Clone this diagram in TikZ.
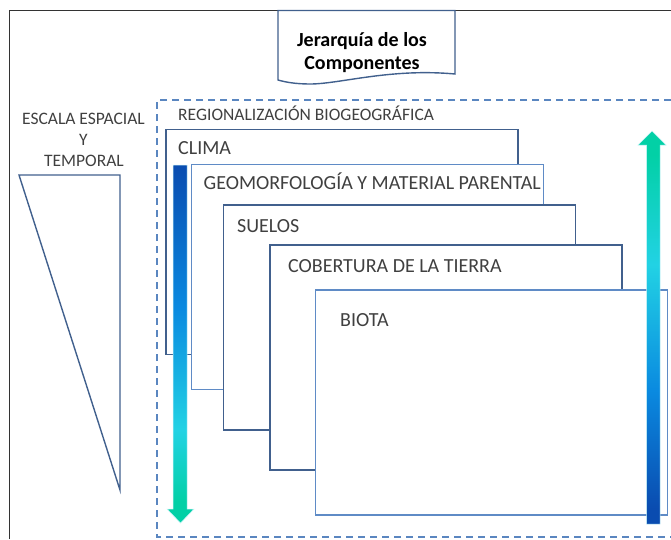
\documentclass[tikz,border=0pt]{standalone}
\usepackage{fontspec}
\setmainfont{Carlito}
\usetikzlibrary{shapes.geometric}
\definecolor{frameblk}{HTML}{333333}
\definecolor{darkedge}{HTML}{41608D}
\definecolor{lightedge}{HTML}{5F8BC6}
\definecolor{dashblue}{HTML}{5A86C0}
\definecolor{txtgray}{HTML}{404040}
\definecolor{dblue}{HTML}{0A4CB0}
\definecolor{mblue}{HTML}{0A8AE0}
\definecolor{cyanc}{HTML}{22D2E4}
\definecolor{tealc}{HTML}{02D0A6}
% path box maps to 25bp..75bp of the shading
\pgfdeclareverticalshading{downgrad}{100bp}{color(0bp)=(tealc); color(28bp)=(tealc); color(38bp)=(cyanc); color(55bp)=(mblue); color(75bp)=(dblue); color(100bp)=(dblue)}
\pgfdeclareverticalshading{upgrad}{100bp}{color(0bp)=(dblue); color(27bp)=(dblue); color(42bp)=(mblue); color(58bp)=(cyanc); color(72bp)=(tealc); color(100bp)=(tealc)}
\tikzset{
  layer/.style={draw=#1, line width=1.6pt, fill=white, anchor=north west, minimum width=352pt, minimum height=225pt, inner sep=0pt},
  lbl/.style={anchor=base west, inner sep=0pt, text=txtgray, font=\fontsize{20}{22}\selectfont},
  smalllbl/.style={inner sep=0pt, text=txtgray, font=\fontsize{17.5}{19}\selectfont},
  arrowglow/.style={draw=white!75!cyanc, line width=0.5pt},
}
\begin{document}
\begin{tikzpicture}[x=1pt,y=-1pt]
\useasboundingbox (0,0) rectangle (671,539);
% outer frame
\draw[frameblk, line width=1.5pt] (9.5,539) -- (9.5,10.5) -- (671,10.5);
% title document shape
\draw[darkedge, line width=1.4pt, fill=white] (278,10.5) -- (455,10.5) -- (455,74)
  .. controls (390,68) and (340,84) .. (310,84) .. controls (295,84) and (285,82) .. (278,80) -- cycle;
\node[inner sep=0pt, align=center, font=\fontsize{20}{23}\selectfont\bfseries, text=black] (title) at (362,53) {Jerarquía de los\\Componentes};
% left scale
\node[smalllbl, anchor=base] (esc1) at (83.5,124) {ESCALA ESPACIAL};
\node[smalllbl, anchor=base] (esc2) at (83.5,145) {Y};
\node[smalllbl, anchor=base] (esc3) at (84,166) {TEMPORAL};
\draw[darkedge, line width=1.4pt] (19,175) -- (120,175) -- (120,490) -- cycle;
% dashed region
\draw[dashblue, line width=2pt, dash pattern=on 7pt off 5pt] (671,100) -- (157,100) -- (157,537) -- (671,537);
\node[anchor=base west, inner sep=0pt, text=txtgray, font=\fontsize{17.5}{19}\selectfont] (region) at (178,120.5) {REGIONALIZACIÓN BIOGEOGRÁFICA};
% layers
\node[layer=darkedge] (clima) at (165,128.5) {};
\node[lbl] (climat) at (178,154) {CLIMA};
\node[layer=lightedge] (geo) at (190.5,163.5) {};
\node[lbl] (geot) at (203.5,189) {GEOMORFOLOGÍA Y MATERIAL PARENTAL};
\node[layer=darkedge] (suelos) at (222.5,204) {};
\node[lbl] (suelost) at (237,232) {SUELOS};
\node[layer=darkedge] (cob) at (269,244) {};
\node[lbl] (cobt) at (288,272) {COBERTURA DE LA TIERRA};
\node[layer=lightedge] (biota) at (314.5,289) {};
\node[lbl] (biotat) at (340,326) {BIOTA};
% arrows
\shade[shading=downgrad, arrowglow] (173,165) -- (187,165) -- (187,509) -- (194,509) -- (180.5,523) -- (167,509) -- (173,509) -- cycle;
\shade[shading=upgrad, arrowglow] (646.5,524) -- (660,524) -- (660,145) -- (666,145) -- (652,131) -- (638,145) -- (646.5,145) -- cycle;
\end{tikzpicture}
\end{document}
